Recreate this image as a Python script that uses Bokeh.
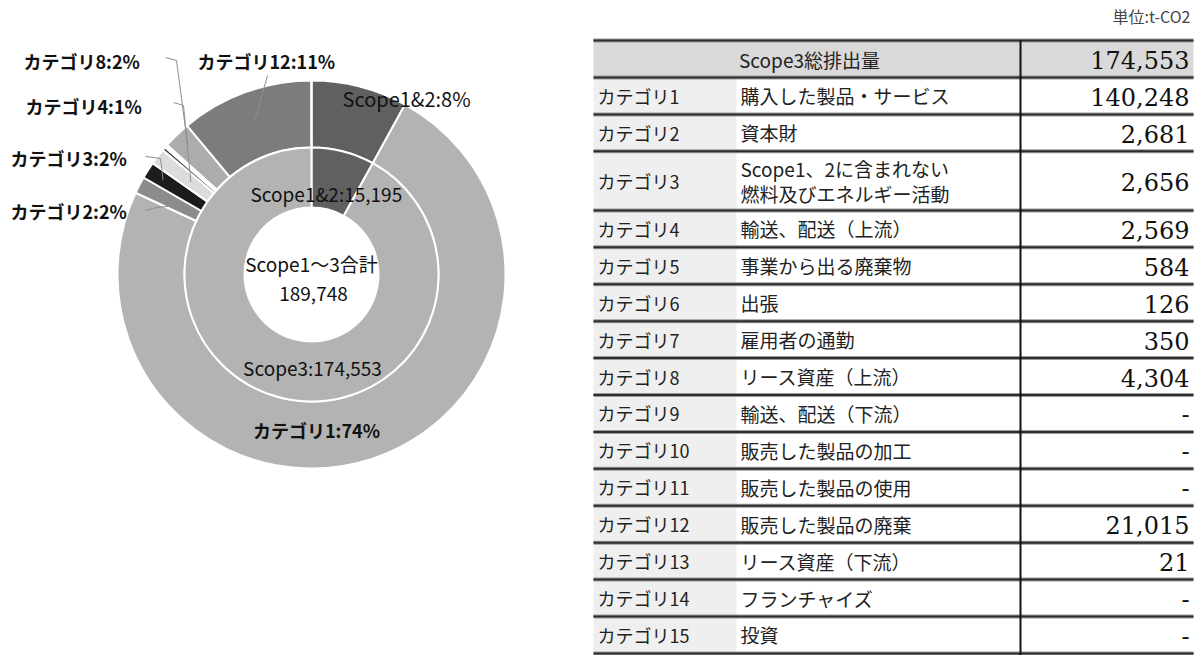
import math
from bokeh.plotting import figure
from bokeh.models import Range1d, ColumnDataSource
from bokeh.core.properties import value
from bokeh.embed import file_html
from bokeh.resources import INLINE

# ---------------- data ----------------
categories = [f"カテゴリ{i}" for i in range(1, 16)]
descriptions = [
    "購入した製品・サービス", "資本財", "Scope1、2に含まれない\n燃料及びエネルギー活動",
    "輸送、配送（上流）", "事業から出る廃棄物", "出張", "雇用者の通勤", "リース資産（上流）",
    "輸送、配送（下流）", "販売した製品の加工", "販売した製品の使用", "販売した製品の廃棄",
    "リース資産（下流）", "フランチャイズ", "投資",
]
cat_values = [140248, 2681, 2656, 2569, 584, 126, 350, 4304, None, None, None, 21015, 21, None, None]
scope12_total = 15195
scope3_total = 174553
grand_total = 189748
table_header = "Scope3総排出量"
unit_label = "単位:t-CO2"

inner_names = ["Scope1&2", "Scope3"]
inner_values = [scope12_total, scope3_total]

# labels shown on the chart (as printed)
outer_label_texts = ["Scope1&2:8%", "カテゴリ12:11%", "カテゴリ8:2%", "カテゴリ4:1%",
                     "カテゴリ3:2%", "カテゴリ2:2%", "カテゴリ1:74%"]
outer_label_keys = ["Scope1&2", "カテゴリ12", "カテゴリ8", "カテゴリ4", "カテゴリ3", "カテゴリ2", "カテゴリ1"]
inner_label_texts = ["Scope1&2:15,195", "Scope3:174,553"]
center_texts = ["Scope1～3合計", "189,748"]

# ---------------- style / layout ----------------
W, H = 1199, 655
def Y(v):
    return H - v

JP = value("Noto Sans CJK JP")
NUM = value("DejaVu Serif")

cx, cy = 311, 274
R_OUT, R_MID, R_IN = 194, 127, 67

outer_colors = {
    "Scope1&2": "#606060", "カテゴリ1": "#b3b3b3", "カテゴリ2": "#8c8c8c", "カテゴリ3": "#1c1c1c",
    "カテゴリ4": "#dcdcdc", "カテゴリ5": "#4a4a4a", "カテゴリ6": "#9a9a9a", "カテゴリ7": "#c8c8c8",
    "カテゴリ8": "#acacac", "カテゴリ9": "#999999", "カテゴリ10": "#999999", "カテゴリ11": "#999999",
    "カテゴリ12": "#7c7c7c", "カテゴリ13": "#555555", "カテゴリ14": "#999999", "カテゴリ15": "#999999",
}
inner_colors = ["#606060", "#b3b3b3"]

p = figure(width=W, height=H, x_range=Range1d(0, W), y_range=Range1d(0, H),
           output_backend="svg", toolbar_location=None, min_border=0,
           x_axis_type=None, y_axis_type=None)
p.grid.visible = False
p.outline_line_color = None
p.background_fill_color = "white"
p.border_fill_color = "white"

def wedge_source(names, vals, colors, total):
    starts, ends, fc, nm, mids = [], [], [], [], {}
    cum = 0.0
    for n, v, c in zip(names, vals, colors):
        v = v or 0
        a0 = cum / total * 2 * math.pi
        cum += v
        a1 = cum / total * 2 * math.pi
        mids[n] = (a0 + a1) / 2
        if v <= 0:
            continue
        starts.append(math.pi / 2 - a1)
        ends.append(math.pi / 2 - a0)
        fc.append(c)
        nm.append(n)
    src = ColumnDataSource(dict(start=starts, end=ends, color=fc, name=nm,
                                x=[cx] * len(nm), y=[Y(cy)] * len(nm)))
    return src, mids

outer_names = ["Scope1&2"] + categories
outer_vals = [scope12_total] + cat_values
outer_total = sum(v or 0 for v in outer_vals)
osrc, omids = wedge_source(outer_names, outer_vals, [outer_colors[n] for n in outer_names], outer_total)
isrc, imids = wedge_source(inner_names, inner_values, inner_colors, sum(inner_values))

p.annular_wedge(x="x", y="y", inner_radius=R_MID, outer_radius=R_OUT,
                inner_radius_units="screen", outer_radius_units="screen",
                start_angle="start", end_angle="end", fill_color="color",
                line_color="white", line_width=2, source=osrc)
p.annular_wedge(x="x", y="y", inner_radius=R_IN, outer_radius=R_MID,
                inner_radius_units="screen", outer_radius_units="screen",
                start_angle="start", end_angle="end", fill_color="color",
                line_color="white", line_width=2, source=isrc)

# leader lines: elbow points near labels, endpoint inside the wedge
leaders = {
    "カテゴリ12": ([(267, 75)], 165),
    "カテゴリ8": ([(165, 57), (176, 60)], 178),
    "カテゴリ4": ([(173, 102), (183, 105)], 152),
    "カテゴリ3": ([(145, 156), (160, 158)], 176),
    "カテゴリ2": ([(145, 210), (156, 207)], 150),
}
xs, ys = [], []
for key, (pts, r) in leaders.items():
    th = omids[key]
    ex, ey = cx + r * math.sin(th), cy - r * math.cos(th)
    xs.append([q[0] for q in pts] + [ex])
    ys.append([Y(q[1]) for q in pts] + [Y(ey)])
p.multi_line(xs, ys, line_color="#8f8f8f", line_width=1)

# chart labels
label_pos = {
    "Scope1&2": (342, 98, "left", "normal", 20),
    "カテゴリ12": (197, 60, "left", "bold", 18),
    "カテゴリ8": (23, 60, "left", "bold", 18),
    "カテゴリ4": (25, 105, "left", "bold", 18),
    "カテゴリ3": (10, 157, "left", "bold", 18),
    "カテゴリ2": (10, 210, "left", "bold", 18),
    "カテゴリ1": (316, 429, "center", "bold", 18),
}
for txt, key in zip(outer_label_texts, outer_label_keys):
    x0, y0, al, st, fs = label_pos[key]
    p.text(x=[x0], y=[Y(y0)], text=[txt], text_font=JP, text_font_size=f"{fs}px",
           text_font_style=st, text_align=al, text_baseline="middle", text_color="#111111")

for txt, (x0, y0) in zip(inner_label_texts, [(250, 193), (312, 367)]):
    p.text(x=[x0], y=[Y(y0)], text=[txt], text_font=JP, text_font_size="19px",
           text_align="left" if x0 == 250 else "center", text_baseline="middle", text_color="#111111")
for txt, (x0, y0) in zip(center_texts, [(311, 263), (313, 293)]):
    p.text(x=[x0], y=[Y(y0)], text=[txt], text_font=JP, text_font_size="19px",
           text_align="center", text_baseline="middle", text_color="#111111")

# ---------------- table ----------------
TL, TR, DIV, C1R = 593, 1193, 1020, 736
TOP, HDR_B = 40, 77
unit_h = 36.92
units = [1.6 if "\n" in d else 1.0 for d in descriptions]
bounds = [HDR_B]
for u in units:
    bounds.append(bounds[-1] + u * unit_h)

# backgrounds
p.quad(left=[TL], right=[TR], top=[Y(TOP)], bottom=[Y(HDR_B)], fill_color="#d9d9d9", line_color=None)
p.quad(left=[TL], right=[C1R], top=[Y(HDR_B)], bottom=[Y(bounds[-1])], fill_color="#efefef", line_color=None)

# horizontal rules
hy = [TOP] + bounds
p.segment(x0=[TL] * len(hy), x1=[TR] * len(hy), y0=[Y(v) for v in hy], y1=[Y(v) for v in hy],
          line_color="#9a9a9a", line_width=4)
p.segment(x0=[TL] * len(hy), x1=[TR] * len(hy), y0=[Y(v) for v in hy], y1=[Y(v) for v in hy],
          line_color="#2e2e2e", line_width=2)
# vertical divider
p.segment(x0=[DIV], x1=[DIV], y0=[Y(TOP)], y1=[Y(H)], line_color="#111111", line_width=2)

# header
p.text(x=[809], y=[Y((TOP + HDR_B) / 2)], text=[table_header], text_font=JP, text_font_size="19px",
       text_align="center", text_baseline="middle", text_color="#222222")
p.text(x=[1189], y=[Y((TOP + HDR_B) / 2 + 1)], text=[f"{scope3_total:,}"], text_font=NUM,
       text_font_size="24px", text_align="right", text_baseline="middle", text_color="#111111")

for i, (c, d, v) in enumerate(zip(categories, descriptions, cat_values)):
    yc = (bounds[i] + bounds[i + 1]) / 2
    p.text(x=[597], y=[Y(yc)], text=[c], text_font=JP, text_font_size="18px",
           text_align="left", text_baseline="middle", text_color="#222222")
    lines = d.split("\n")
    if len(lines) == 1:
        p.text(x=[740], y=[Y(yc)], text=[d], text_font=JP, text_font_size="19px",
               text_align="left", text_baseline="middle", text_color="#222222")
    else:
        for k, ln in enumerate(lines):
            p.text(x=[740], y=[Y(yc - 12 + 25 * k)], text=[ln], text_font=JP, text_font_size="19px",
                   text_align="left", text_baseline="middle", text_color="#222222")
    vt = f"{v:,}" if v else "-"
    p.text(x=[1189], y=[Y(yc + 1)], text=[vt], text_font=NUM, text_font_size="24px",
           text_align="right", text_baseline="middle", text_color="#111111")

p.text(x=[1190], y=[Y(15)], text=[unit_label], text_font=JP, text_font_size="16px",
       text_align="right", text_baseline="middle", text_color="#444444")

open("out.html", "w").write(file_html(p, INLINE))
